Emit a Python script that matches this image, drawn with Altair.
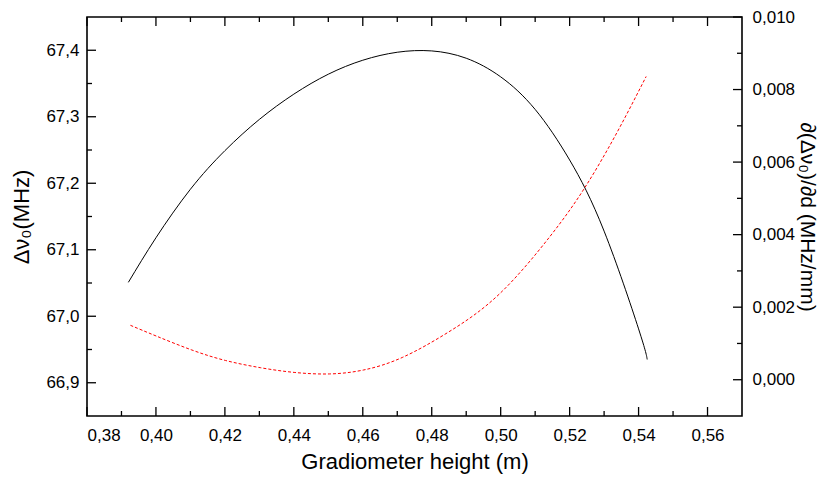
import altair as alt
import pandas as pd

# ---- data ----
black_x = [0.392, 0.400, 0.410, 0.420, 0.430, 0.440, 0.450, 0.460, 0.470,
           0.480, 0.490, 0.500, 0.510, 0.520, 0.530, 0.540, 0.5425]
delta_nu = [67.051, 67.118, 67.191, 67.249, 67.296, 67.334, 67.364, 67.385, 67.397,
            67.399, 67.388, 67.360, 67.311, 67.235, 67.128, 66.981, 66.935]

red_x = [0.3926, 0.4002, 0.4104, 0.4202, 0.4304, 0.4403, 0.4504, 0.4603, 0.4716,
         0.4853, 0.4998, 0.5143, 0.5245, 0.5337, 0.5422]
deriv = [0.00150, 0.00120, 0.00082, 0.00053, 0.00033, 0.00020, 0.00016, 0.00027, 0.00062,
         0.00134, 0.00238, 0.00395, 0.00531, 0.00681, 0.00836]

x_major = [0.38, 0.40, 0.42, 0.44, 0.46, 0.48, 0.50, 0.52, 0.54, 0.56]
x_minor = [0.39, 0.41, 0.43, 0.45, 0.47, 0.49, 0.51, 0.53, 0.55]
yl_major = [66.9, 67.0, 67.1, 67.2, 67.3, 67.4]
yl_minor = [66.95, 67.05, 67.15, 67.25, 67.35]
yr_major = [0.000, 0.002, 0.004, 0.006, 0.008, 0.010]
yr_minor = [0.001, 0.003, 0.005, 0.007, 0.009]

W, H = 655, 399
MAJ, MIN = 9, 5
FONT = "Liberation Sans"

x_dom = [0.38, 0.57]
yl_dom = [66.85, 67.45]
yr_dom = [-0.001, 0.010]

x_axis = alt.Axis(values=x_major, labelExpr="replace(format(datum.value, '.2f'), '.', ',')",
                  ticks=False, tickSize=0, domain=False, grid=False, labelPadding=11,
                  title="Gradiometer height (m)", titlePadding=8)
yl_axis = alt.Axis(values=yl_major, labelExpr="replace(format(datum.value, '.1f'), '.', ',')",
                   ticks=False, tickSize=0, domain=False, grid=False, labelPadding=8,
                   title="Δν₀(MHz)", titlePadding=12)
yr_axis = alt.Axis(values=yr_major, labelExpr="replace(format(datum.value, '.3f'), '.', ',')",
                   ticks=False, tickSize=0, domain=False, grid=False, labelPadding=10, orient="right",
                   title="∂(Δν₀)/∂d (MHz/mm)", titlePadding=2, titleFontSize=21)

X = lambda: alt.X("x:Q", scale=alt.Scale(domain=x_dom, nice=False, zero=False), axis=x_axis)
YL = lambda: alt.Y("v:Q", scale=alt.Scale(domain=yl_dom, nice=False, zero=False), axis=yl_axis)
YR = lambda: alt.Y("r:Q", scale=alt.Scale(domain=yr_dom, nice=False, zero=False), axis=yr_axis)

main_df = pd.DataFrame({"x": black_x, "v": delta_nu})
red_df = pd.DataFrame({"x": red_x, "r": deriv})

black = alt.Chart(main_df).mark_line(color="black", strokeWidth=1, interpolate="natural").encode(x=X(), y=YL())

def xticks(vals, ln):
    df = pd.DataFrame({"x": vals})
    b = alt.Chart(df).mark_rule(color="black", strokeWidth=1.3).encode(
        x=X(), y=alt.value(H), y2=alt.value(H - ln))
    t = alt.Chart(df).mark_rule(color="black", strokeWidth=1.3).encode(
        x=X(), y=alt.value(0), y2=alt.value(ln))
    return [b, t]

def ylticks(vals, ln):
    df = pd.DataFrame({"v": vals})
    return alt.Chart(df).mark_rule(color="black", strokeWidth=1.3).encode(
        y=YL(), x=alt.value(0), x2=alt.value(ln))

def yrticks(vals, ln):
    df = pd.DataFrame({"r": vals})
    return alt.Chart(df).mark_rule(color="black", strokeWidth=1.3).encode(
        y=YR(), x=alt.value(W), x2=alt.value(W - ln))

left = alt.layer(black, *xticks(x_major, MAJ), *xticks(x_minor, MIN),
                 ylticks(yl_major, MAJ), ylticks(yl_minor, MIN))

red = alt.Chart(red_df).mark_line(color="#ff0000", strokeWidth=1, strokeDash=[3, 2],
                                  interpolate="natural").encode(x=X(), y=YR())
right = alt.layer(red, yrticks(yr_major, MAJ), yrticks(yr_minor, MIN))

chart = alt.layer(left, right).resolve_scale(y="independent").properties(
    width=W, height=H,
    background="white",
    autosize=alt.AutoSizeParams(type="none"),
    padding={"left": 79, "top": 9, "right": 79, "bottom": 59},
).configure_view(stroke="black", strokeWidth=1.6).configure_axis(
    labelFont=FONT, labelFontSize=17, labelColor="black",
    titleFont=FONT, titleFontSize=22, titleColor="black", titleFontWeight="normal",
)

chart.save("out.html", embed_options={"renderer": "svg", "actions": False})
